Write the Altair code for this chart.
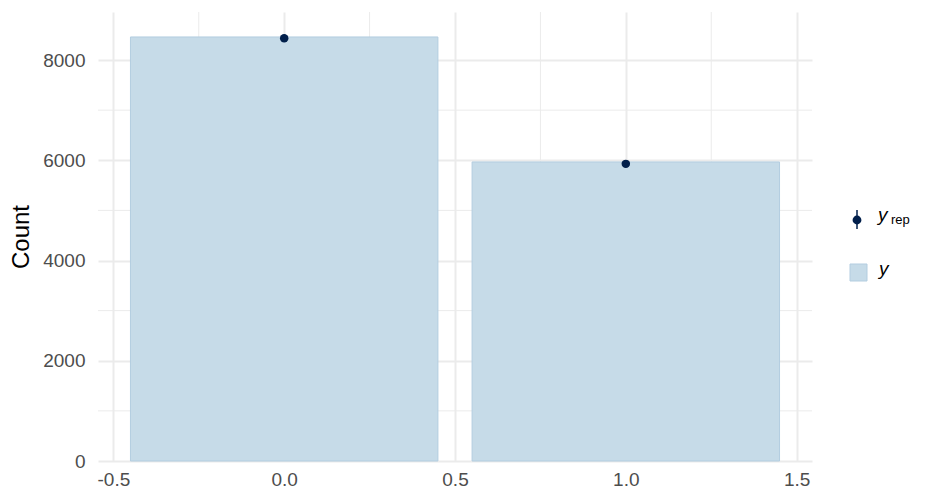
import altair as alt
import pandas as pd

# data
categories = [0, 1]
y_counts = [8460, 5966]
yrep_mid = [8433, 5928]
yrep_lo = [8380, 5880]
yrep_hi = [8485, 5975]

x_major = [-0.5, 0.0, 0.5, 1.0, 1.5]
x_minor = [-0.25, 0.25, 0.75, 1.25]
y_major = [0, 2000, 4000, 6000, 8000]
y_minor = [1000, 3000, 5000, 7000]

bars = pd.DataFrame({
    "x": categories,
    "x0": [c - 0.45 for c in categories],
    "x1": [c + 0.45 for c in categories],
    "count": y_counts,
    "mid": yrep_mid,
    "lo": yrep_lo,
    "hi": yrep_hi,
})

W, H = 714, 449
FONT = "Liberation Sans"
GRID = "#ebebeb"

xs = alt.Scale(domain=[-0.545, 1.545], nice=False, zero=False)
ys = alt.Scale(domain=[0, 8958], nice=False, zero=False)

x_axis = alt.Axis(values=x_major, labelExpr="replace(format(datum.value, '.1f'), '\u2212', '-')",
                  grid=True, gridColor=GRID, gridWidth=2,
                  domain=False, ticks=False, labelFontSize=19, labelColor="#4d4d4d",
                  labelFont=FONT, labelPadding=9, title=None)
y_axis = alt.Axis(values=y_major, format="d", grid=True, gridColor=GRID, gridWidth=2,
                  domain=False, ticks=False, labelFontSize=19, labelColor="#4d4d4d",
                  labelFont=FONT, labelPadding=13, title="Count", titleFont=FONT,
                  titleFontSize=24, titleFontWeight="normal", titleColor="black",
                  titlePadding=9)

minor_x = alt.Chart(pd.DataFrame({"v": x_minor})).mark_rule(color=GRID, strokeWidth=1).encode(
    x=alt.X("v:Q", scale=xs, axis=x_axis, title=None))
minor_y = alt.Chart(pd.DataFrame({"v": y_minor})).mark_rule(color=GRID, strokeWidth=1).encode(
    y=alt.Y("v:Q", scale=ys, axis=y_axis, title="Count"))

base = alt.Chart(bars)
rects = base.mark_rect(fill="#c6dbe8", stroke="#b3cde0", strokeWidth=1).encode(
    x=alt.X("x0:Q", scale=xs, axis=x_axis, title=None),
    x2="x1:Q",
    y=alt.Y("count:Q", scale=ys, axis=y_axis, title="Count"),
    y2=alt.datum(0),
)
ranges = base.mark_rule(color="#011f4b", strokeWidth=1.5).encode(
    x=alt.X("x:Q", scale=xs, axis=x_axis, title=None),
    y=alt.Y("lo:Q", scale=ys, axis=y_axis, title="Count"), y2="hi:Q")
points = base.mark_circle(color="#011f4b", opacity=1, size=72).encode(
    x=alt.X("x:Q", scale=xs, axis=x_axis, title=None),
    y=alt.Y("mid:Q", scale=ys, axis=y_axis, title="Count"))

# manual legend (pixel positions relative to plot origin)
one = pd.DataFrame({"a": [0]})
OX, OY = 98, 12
leg_rule = alt.Chart(one).mark_rule(color="#011f4b", strokeWidth=1.5).encode(
    x=alt.value(857 - OX), y=alt.value(210 - OY), y2=alt.value(229 - OY))
leg_dot = alt.Chart(one).mark_circle(color="#011f4b", opacity=1, size=78).encode(
    x=alt.value(857 - OX), y=alt.value(220 - OY))
leg_sq = alt.Chart(one).mark_square(fill="#c6dbe8", stroke="#b3cde0", strokeWidth=1,
                                    opacity=1, size=289).encode(
    x=alt.value(858.5 - OX), y=alt.value(272.5 - OY))
leg_y1 = alt.Chart(one).mark_text(text="y", font=FONT, fontSize=19, fontStyle="italic",
                                  align="left", baseline="alphabetic", color="black").encode(
    x=alt.value(878 - OX), y=alt.value(221 - OY))
leg_rep = alt.Chart(one).mark_text(text="rep", font=FONT, fontSize=13,
                                   align="left", baseline="alphabetic", color="black").encode(
    x=alt.value(891 - OX), y=alt.value(224 - OY))
leg_y2 = alt.Chart(one).mark_text(text="y", font=FONT, fontSize=19, fontStyle="italic",
                                  align="left", baseline="alphabetic", color="black").encode(
    x=alt.value(879 - OX), y=alt.value(275 - OY))

chart = alt.layer(
    minor_x, minor_y, rects, ranges, points,
    leg_rule, leg_dot, leg_sq, leg_y1, leg_rep, leg_y2,
).properties(
    width=W, height=H,
    background="white",
    autosize=alt.AutoSizeParams(type="none"),
    padding={"left": OX - 8, "top": OY - 8, "right": 936 - 8 - OX - W, "bottom": 504 - 8 - OY - H},
).configure_view(stroke=None)

chart.save("out.html", embed_options={"renderer": "svg", "actions": False})
